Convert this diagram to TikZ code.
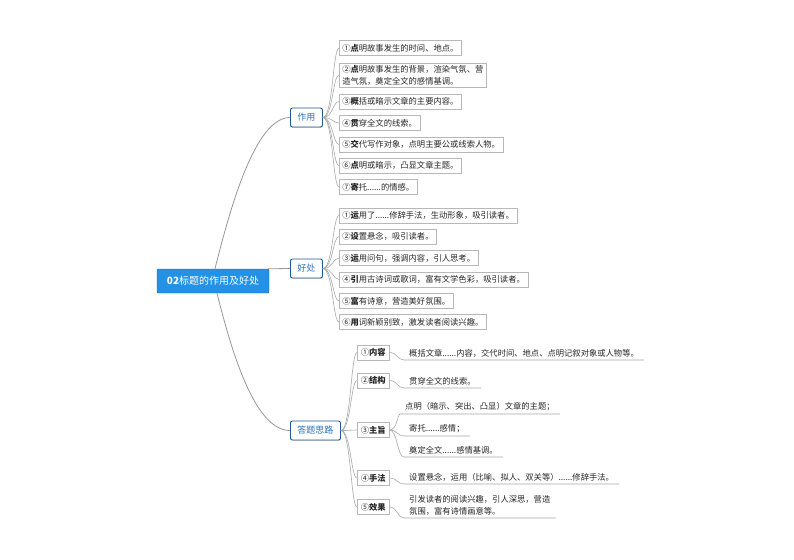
\documentclass[tikz,border=0pt]{standalone}
\usepackage{fontspec}
\setmainfont{Noto Sans CJK SC}
\usetikzlibrary{calc,shadows}

\definecolor{rootblue}{HTML}{2391E6}
\definecolor{branchblue}{HTML}{1F5A96}
\definecolor{branchtext}{HTML}{2C74C0}
\definecolor{linegray}{HTML}{A8A8A8}
\definecolor{boxgray}{HTML}{B8B8B8}

\begin{document}
\begin{tikzpicture}[
  x=1pt, y=-1pt,
  every node/.style={font=\fontsize{8.3}{12}\selectfont, text=black!85},
  rootnode/.style={fill=rootblue, draw=rootblue!75!black, text=white,
    font=\fontsize{10}{12}\selectfont, minimum width=112pt, minimum height=24pt,
    inner sep=0pt, rounded corners=1pt},
  branch/.style={draw=branchblue, line width=0.9pt, fill=white, rounded corners=2pt,
    text=branchtext, font=\fontsize{9}{11}\selectfont, minimum height=19pt,
    inner xsep=7pt, inner ysep=0pt, anchor=west,
    drop shadow={shadow xshift=0.5pt, shadow yshift=-0.8pt, opacity=0.35}},
  leaf/.style={draw=boxgray, line width=0.5pt, anchor=west, minimum height=15pt,
    inner xsep=3pt, inner ysep=2pt, align=left},
  topic/.style={anchor=south west, inner xsep=5pt, inner ysep=2.5pt, align=left},
  link/.style={draw=linegray, line width=0.6pt},
  mainlink/.style={draw=linegray!90!black, line width=0.8pt}
]
\useasboundingbox (0,0) rectangle (794,559);

% Root node
\node[rootnode] (root) at (213,281) {\textbf{02}标题的作用及好处};

% Branches
\node[branch] (zuoyong) at (290,117.5) {作用};
\node[branch] (haochu) at (290,268.5) {好处};
\node[branch] (dati) at (290,430.5) {答题思路};

\draw[mainlink] ([xshift=2pt]root.north) .. controls +(15,-60) and +(-35,0) .. (zuoyong.west);
\draw[mainlink] ([xshift=-1pt]root.north east) .. controls +(8,0) and +(-8,0) .. (haochu.west);
\draw[mainlink] ([xshift=4pt]root.south) .. controls +(15,60) and +(-35,0) .. (dati.west);

% Leaves of zuoyong
\foreach \y/\txt [count=\i] in {
  48/{①\textbf{点}明故事发生的时间、地点。},
  75/{②\textbf{点}明故事发生的背景，渲染气氛、营\\造气氛，奠定全文的感情基调。},
  101.5/{③\textbf{概}括或暗示文章的主要内容。},
  123/{④\textbf{贯}穿全文的线索。},
  144.5/{⑤\textbf{交}代写作对象，点明主要公或线索人物。},
  165.5/{⑥\textbf{点}明或暗示，凸显文章主题。},
  187/{⑦\textbf{寄}托......的情感。}}
  \node[leaf] (zy\i) at (339,\y) {\txt};

\coordinate (zys) at ([xshift=10pt]zuoyong.east);
\foreach \i in {1,...,7}
  \draw[link] (zuoyong.east) .. controls (zys) and (zys |- zy\i.west) .. (zy\i.west);

% Leaves of haochu
\foreach \y/\txt [count=\i] in {
  215.5/{①\textbf{运}用了......修辞手法，生动形象，吸引读者。},
  236.5/{②\textbf{设}置悬念，吸引读者。},
  258/{③\textbf{运}用问句，强调内容，引人思考。},
  279.5/{④\textbf{引}用古诗词或歌词，富有文学色彩，吸引读者。},
  301/{⑤\textbf{富}有诗意，营造美好氛围。},
  322/{⑥\textbf{用}词新颖别致，激发读者阅读兴趣。}}
  \node[leaf] (hc\i) at (339,\y) {\txt};

\coordinate (hcs) at ([xshift=10pt]haochu.east);
\foreach \i in {1,...,6}
  \draw[link] (haochu.east) .. controls (hcs) and (hcs |- hc\i.west) .. (hc\i.west);

% Sub topics of dati
\foreach \y/\txt [count=\i] in {
  352.5/{①\textbf{内容}},
  380.5/{②\textbf{结构}},
  430/{③\textbf{主旨}},
  478/{④\textbf{手法}},
  507/{⑤\textbf{效果}}}
  \node[leaf, inner xsep=3.5pt] (dt\i) at (357,\y) {\txt};

\coordinate (dts) at ([xshift=10pt]dati.east);
\foreach \i in {1,...,5}
  \draw[link] (dati.east) .. controls (dts) and (dts |- dt\i.west) .. (dt\i.west);

% Underlined answers
\node[topic] (t11) at (404,360) {概括文章......内容，交代时间、地点、点明记叙对象或人物等。};
\node[topic] (t21) at (404,388) {贯穿全文的线索。};
\node[topic] (t31) at (400,414) {点明（暗示、突出、凸显）文章的主题；};
\node[topic] (t32) at (404,436) {寄托......感情；};
\node[topic] (t33) at (404,457) {奠定全文......感情基调。};
\node[topic] (t41) at (404,484) {设置悬念，运用（比喻、拟人、双关等）......修辞手法。};
\node[topic] (t51) at (404,518) {引发读者的阅读兴趣，引人深思，营造\\氛围，富有诗情画意等。};

\foreach \s/\t in {dt1/t11, dt2/t21, dt3/t31, dt3/t32, dt3/t33, dt4/t41, dt5/t51}
  \draw[link] (\s.east) .. controls ([xshift=8pt]\s.east)
    and ([xshift=8pt]\s.east |- \t.south west) .. (\t.south west) -- (\t.south east);
\end{tikzpicture}
\end{document}
